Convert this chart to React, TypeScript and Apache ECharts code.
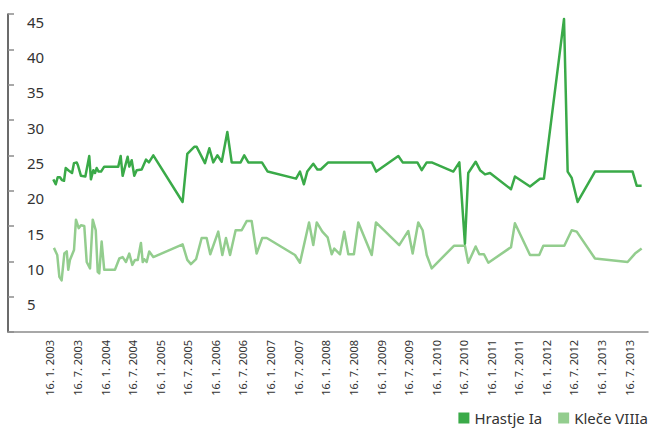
import React, { useEffect, useRef } from "react";
import * as echarts from "echarts";

const hrastjeDates = [
  "2003-02-07", "2003-02-23", "2003-03-08", "2003-03-23", "2003-04-05", "2003-04-19", "2003-04-30",
  "2003-05-17", "2003-06-11", "2003-06-24", "2003-07-12", "2003-07-20", "2003-08-09", "2003-09-07",
  "2003-10-03", "2003-10-14", "2003-10-30", "2003-11-10", "2003-11-21", "2003-12-04", "2003-12-20",
  "2004-01-10", "2004-04-12", "2004-04-28", "2004-05-11", "2004-05-27", "2004-06-13", "2004-06-24",
  "2004-07-10", "2004-07-27", "2004-08-12", "2004-09-14", "2004-10-13", "2004-11-01", "2004-11-30",
  "2005-06-12", "2005-07-13", "2005-08-28", "2005-09-13", "2005-11-07", "2005-12-06", "2006-01-01",
  "2006-01-28", "2006-02-26", "2006-04-04", "2006-05-03", "2006-07-01", "2006-07-25", "2006-08-21",
  "2006-11-19", "2006-12-27", "2007-07-03", "2007-07-29", "2007-08-24", "2007-09-15", "2007-10-25",
  "2007-11-21", "2007-12-13", "2008-02-01", "2008-11-15", "2008-12-15", "2009-05-10", "2009-06-08",
  "2009-09-13", "2009-10-12", "2009-11-14", "2009-12-17", "2010-05-09", "2010-06-18", "2010-07-25",
  "2010-08-16", "2010-10-04", "2010-11-02", "2010-12-05", "2011-01-07", "2011-05-26", "2011-06-21",
  "2011-09-29", "2011-12-04", "2011-12-30", "2012-05-11", "2012-06-04", "2012-07-01", "2012-08-09",
  "2012-12-02", "2013-08-08", "2013-09-04", "2013-10-07",
];
const hrastjeValues = [
  21.6, 20.9, 21.9, 21.9, 21.5, 21.4, 23.2,
  22.9, 22.5, 23.9, 24.0, 23.6, 22.1, 22.0,
  24.9, 21.6, 22.9, 22.5, 23.2, 22.7, 22.7,
  23.4, 23.4, 24.9, 22.1, 23.4, 24.8, 23.4,
  24.3, 22.1, 22.9, 23.0, 24.4, 24.0, 25.0,
  18.4, 25.2, 26.2, 26.2, 23.9, 26.0, 24.0,
  25.0, 24.1, 28.3, 24.0, 24.0, 25.0, 24.0,
  24.0, 22.7, 21.7, 22.7, 20.9, 22.7, 23.8,
  23.0, 23.0, 24.0, 24.0, 22.7, 24.9, 24.0,
  24.0, 22.9, 24.0, 24.0, 22.7, 24.0, 12.5,
  22.5, 24.1, 22.9, 22.3, 22.5, 20.2, 22.0,
  20.6, 21.7, 21.7, 44.3, 22.7, 21.8, 18.4,
  22.7, 22.7, 20.7, 20.7,
];

const kleceDates = [
  "2003-02-11", "2003-03-05", "2003-03-19", "2003-04-03", "2003-04-21", "2003-05-07", "2003-05-17",
  "2003-05-28", "2003-06-24", "2003-07-07", "2003-07-25", "2003-08-09", "2003-08-31", "2003-09-16",
  "2003-10-08", "2003-10-26", "2003-11-15", "2003-11-28", "2003-12-08", "2003-12-24", "2004-01-10",
  "2004-03-21", "2004-04-19", "2004-05-11", "2004-06-02", "2004-06-24", "2004-07-14", "2004-08-01",
  "2004-08-19", "2004-09-09", "2004-09-21", "2004-10-01", "2004-10-17", "2004-11-03", "2004-11-30",
  "2005-06-12", "2005-07-13", "2005-08-06", "2005-09-09", "2005-10-16", "2005-11-18", "2005-12-12",
  "2006-02-03", "2006-03-02", "2006-03-26", "2006-04-22", "2006-05-29", "2006-07-08", "2006-08-10",
  "2006-09-12", "2006-10-15", "2006-11-21", "2006-12-21", "2007-06-26", "2007-07-29", "2007-09-27",
  "2007-10-25", "2007-11-17", "2007-12-24", "2008-01-28", "2008-02-24", "2008-03-12", "2008-04-19",
  "2008-05-17", "2008-06-13", "2008-07-20", "2008-08-18", "2008-11-15", "2008-12-13", "2009-05-16",
  "2009-07-15", "2009-08-13", "2009-09-19", "2009-10-18", "2009-11-14", "2009-12-17", "2010-05-13",
  "2010-07-25", "2010-08-16", "2010-10-04", "2010-10-28", "2010-11-28", "2010-12-27", "2011-05-26",
  "2011-06-21", "2011-09-29", "2011-11-29", "2011-12-26", "2012-05-13", "2012-07-01", "2012-08-03",
  "2012-12-02", "2013-07-06", "2013-08-24", "2013-10-07",
];
const kleceValues = [
  11.9, 10.9, 7.8, 7.3, 11.1, 11.4, 8.8,
  10.2, 11.6, 15.9, 14.7, 15.1, 15.0, 9.9,
  9.0, 15.9, 14.4, 8.5, 8.3, 12.8, 8.8,
  8.8, 10.4, 10.6, 9.9, 11.1, 9.5, 10.2,
  10.2, 12.6, 9.9, 10.3, 9.9, 11.4, 10.6,
  12.4, 10.2, 9.6, 10.3, 13.3, 13.3, 11.0,
  14.2, 10.9, 13.3, 10.9, 14.4, 14.4, 15.7,
  15.7, 11.1, 13.3, 13.3, 10.9, 9.8, 15.5,
  12.3, 15.5, 14.2, 13.4, 11.0, 11.8, 11.0,
  14.2, 11.0, 11.0, 15.5, 10.9, 15.5, 12.3,
  14.3, 11.1, 15.5, 14.4, 10.9, 9.0, 12.2,
  12.2, 9.8, 12.1, 11.0, 11.0, 9.8, 12.0,
  15.4, 10.9, 10.9, 12.2, 12.2, 14.4, 14.2,
  10.4, 9.9, 11.1, 11.8,
];

const tickDates = [
  "2003-01-16", "2003-07-16", "2004-01-16", "2004-07-16", "2005-01-16", "2005-07-16",
  "2006-01-16", "2006-07-16", "2007-01-16", "2007-07-16", "2008-01-16", "2008-07-16",
  "2009-01-16", "2009-07-16", "2010-01-16", "2010-07-16", "2011-01-16", "2011-07-16",
  "2012-01-16", "2012-07-16", "2013-01-16", "2013-07-16",
];

const seriesNames = ["Hrastje Ia", "Kleče VIIIa"];
const axisMinDate = "2002-04-13";
const axisMaxDate = "2013-11-18";

const ts = (s: string) => new Date(s + "T00:00:00").getTime();
const fmt = (v: number) => {
  const d = new Date(v);
  return `${d.getDate()}. ${d.getMonth() + 1}. ${d.getFullYear()}`;
};

export default function App() {
  const ref = useRef<HTMLDivElement>(null);
  useEffect(() => {
    if (!ref.current) return;
    const chart = echarts.init(ref.current, null, { renderer: "svg" });
    const font = "'Noto Sans', sans-serif";
    chart.setOption({
      animation: false,
      textStyle: { fontFamily: font },
      grid: { left: 8, right: 2, top: 14, bottom: 97, containLabel: false, outerBoundsMode: "none" },
      legend: {
        right: 2,
        top: 410,
        padding: 0,
        icon: "rect",
        itemWidth: 11,
        itemHeight: 11,
        itemGap: 16,
        textStyle: { fontSize: 15, lineHeight: 16, color: "#333", fontFamily: font },
        data: seriesNames,
      },
      xAxis: {
        type: "value",
        min: ts(axisMinDate),
        max: ts(axisMaxDate),
        axisLine: { show: true, lineStyle: { color: "#8c8c8c", width: 1.5 } },
        axisTick: { show: false },
        splitLine: { show: false },
        axisLabel: {
          customValues: tickDates.map(ts),
          rotate: 90,
          margin: 8,
          fontSize: 11,
          color: "#333",
          fontFamily: font,
          hideOverlap: false,
          formatter: (v: number) => fmt(v),
        },
      },
      yAxis: {
        type: "value",
        min: 0,
        max: 45,
        interval: 5,
        axisLine: { show: true, lineStyle: { color: "#3a3a3a", width: 1.5 } },
        axisTick: { show: true, inside: true, length: 6, lineStyle: { color: "#8c8c8c", width: 1.5 } },
        splitLine: { show: false },
        axisLabel: {
          inside: true,
          margin: 19,
          fontSize: 15,
          color: "#333",
          fontFamily: font,
          verticalAlign: "top",
          lineHeight: 15,
          formatter: (v: number) => (v === 0 ? "" : String(v)),
        },
      },
      series: [
        {
          name: seriesNames[0],
          type: "line",
          symbol: "none",
          itemStyle: { color: "#3aaa48" },
          lineStyle: { color: "#3aaa48", width: 2.5, join: "round" },
          data: hrastjeDates.map((d, i) => [ts(d), hrastjeValues[i]]),
          z: 3,
        },
        {
          name: seriesNames[1],
          type: "line",
          symbol: "none",
          itemStyle: { color: "#93cd8e" },
          lineStyle: { color: "#93cd8e", width: 2.5, join: "round" },
          data: kleceDates.map((d, i) => [ts(d), kleceValues[i]]),
          z: 2,
        },
      ],
    });
    return () => chart.dispose();
  }, []);
  return (
    <div
      ref={ref}
      style={{ position: "absolute", left: 0, top: 0, width: 650, height: 429 }}
    />
  );
}
